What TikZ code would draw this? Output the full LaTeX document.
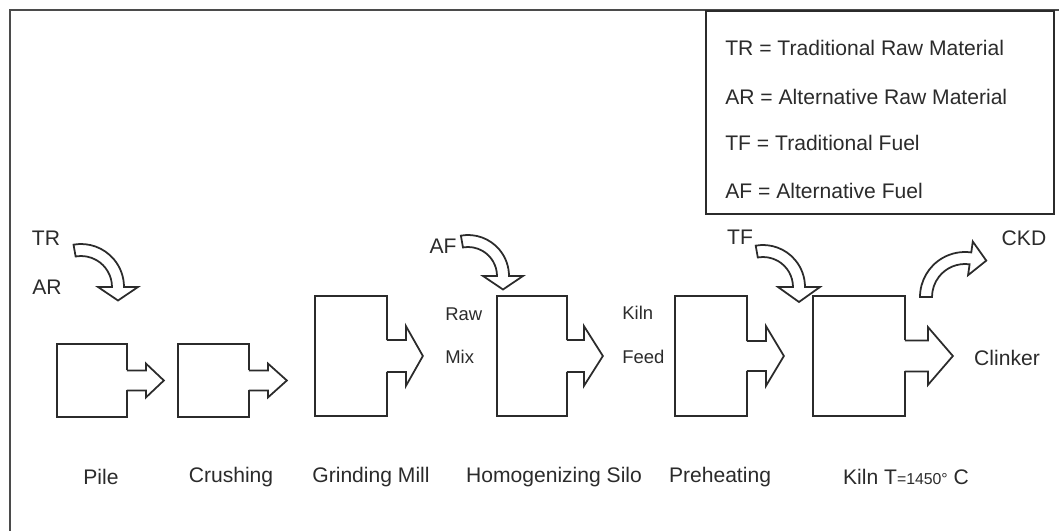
\documentclass[tikz,border=0pt]{standalone}
\usepackage{fontspec}
\setmainfont{Liberation Sans}
\usetikzlibrary{calc,positioning}
\definecolor{ink}{HTML}{2B2B2B}

\begin{document}
\begin{tikzpicture}[
  stage/.style={draw=ink,line width=1pt,minimum width=1.4cm,minimum height=2.4cm,inner sep=0pt},
  small/.style={stage,minimum height=1.46cm},
  lbl/.style={font=\fontsize{12}{14}\selectfont,text=ink,inner sep=0pt},
  tag/.style={font=\fontsize{10.5}{12}\selectfont,text=ink,anchor=west,inner sep=0pt},
  flow/.style={draw=ink,line width=1pt,fill=white,line join=miter}
]
  \useasboundingbox (0,0) rectangle (21.18,10.62);
  % page frame and legend
  \draw[ink!85,line width=1pt] (0.2,0) -- (0.2,10.42) -- (21.18,10.42);
  \node[draw=ink,line width=1pt,minimum width=6.96cm,minimum height=4.06cm,anchor=north east] (legend) at (21.1,10.42) {};
  \node[lbl,anchor=west] (ltr) at (14.5,9.66) {TR = Traditional Raw Material};
  \node[lbl,anchor=west] (lar) at (14.5,8.68) {AR = Alternative Raw Material};
  \node[lbl,anchor=west] (ltf) at (14.5,7.76) {TF = Traditional Fuel};
  \node[lbl,anchor=west] (laf) at (14.5,6.8)  {AF = Alternative Fuel};

  % process stages
  \node[small] (pile) at (1.84,3.01) {};
  \node[small,minimum width=1.42cm] (crush) at (4.27,3.01) {};
  \node[stage,minimum width=1.44cm] (mill) at (7.02,3.5) {};
  \node[stage] (silo) at (10.64,3.5) {};
  \node[stage,minimum width=1.44cm] (preheat) at (14.22,3.5) {};
  \node[stage,minimum width=1.84cm] (kiln) at (17.18,3.5) {};

  \foreach \b/\s/\h/\l/\t in {pile/0.2/0.34/0.36/0.72, crush/0.2/0.34/0.36/0.74,
      mill/0.32/0.6/0.36/0.7, silo/0.32/0.6/0.32/0.7,
      preheat/0.3/0.6/0.36/0.72, kiln/0.31/0.58/0.44/0.94}
  {
    \fill[white] ($(\b.east)+(-0.05,-\s)$) rectangle ($(\b.east)+(0.05,\s)$);
    \draw[flow] ($(\b.east)+(-0.018,\s)$) -- ($(\b.east)+(\l,\s)$)
      -- ($(\b.east)+(\l,\h)$) -- ($(\b.east)+(\t,0)$) -- ($(\b.east)+(\l,-\h)$)
      -- ($(\b.east)+(\l,-\s)$) -- ($(\b.east)+(-0.018,-\s)$);
  }

  % inputs and outputs
  \coordinate (trc) at (1.62,4.88);
  \coordinate (afc) at (9.36,5.1);
  \coordinate (tfc) at (15.26,4.88);
  \coordinate (ckdc) at (19.3,4.68);
  \foreach \c/\r/\a/\e/\h/\l in {trc/0.74/100/0/0.4/0.27, afc/0.7/100/0/0.4/0.27,
      tfc/0.72/100/0/0.42/0.3, ckdc/0.78/180/82/0.34/0.32}
    \draw[flow] ($(\c)+({\a}:{\r+0.12})$) arc[start angle=\a,end angle=\e,radius=\r+0.12]
      -- ($(\c)+({\e}:{\r+\h})$) -- ($(\c)+({\e}:\r)+({\e-90}:\l)$)
      -- ($(\c)+({\e}:{\r-\h})$) -- ($(\c)+({\e}:{\r-0.12})$)
      arc[start angle=\e,end angle=\a,radius=\r-0.12] -- cycle;

  \node[lbl] (tr) at (0.92,5.86) {TR};
  \node[lbl] (ar) at (0.94,4.88) {AR};
  \node[lbl] (af) at (8.86,5.7) {AF};
  \node[lbl] (tf) at (14.8,5.88) {TF};
  \node[lbl] (ckd) at (20.48,5.86) {CKD};
  \node[lbl] (clinker) at (20.14,3.46) {Clinker};
  \node[tag] (raw) at (8.9,4.34) {Raw};
  \node[tag] (mix) at (8.9,3.48) {Mix};
  \node[tag] (kfeed) at (12.44,4.36) {Kiln};
  \node[tag] (feed) at (12.44,3.48) {Feed};

  % stage names
  \node[lbl] (npile) at (2.02,1.08) {Pile};
  \node[lbl] (ncrush) at (4.62,1.08) {Crushing};
  \node[lbl] (nmill) at (7.42,1.08) {Grinding Mill};
  \node[lbl] (nsilo) at (11.08,1.08) {Homogenizing Silo};
  \node[lbl] (npreheat) at (14.4,1.08) {Preheating};
  \node[lbl] (nkiln) at (18.12,1.08) {Kiln T{\fontsize{9}{10}\selectfont=1450°} C};
\end{tikzpicture}
\end{document}
